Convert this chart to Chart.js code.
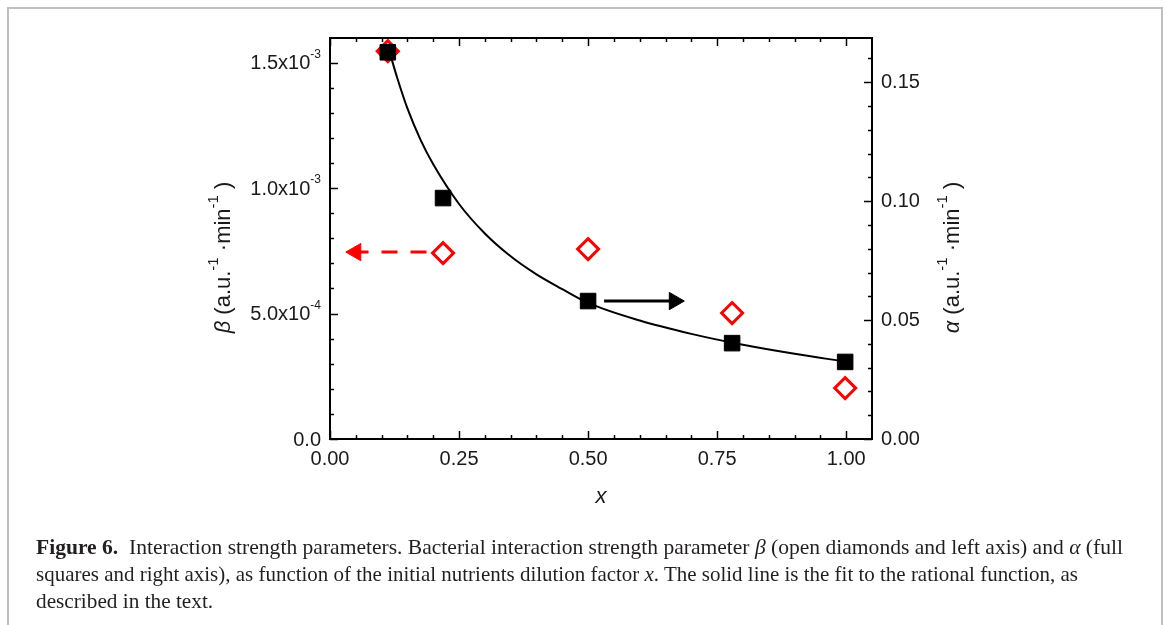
<!DOCTYPE html>
<html>
<head>
<meta charset="utf-8">
<script src="https://cdn.jsdelivr.net/npm/chart.js@4.4.1/dist/chart.umd.min.js"></script>
<style>
    html, body { margin: 0; padding: 0; background: #fff; }
    #wrap { position: relative; width: 1167px; height: 625px; overflow: hidden; }
    #frame { position: absolute; left: 7px; top: 7px; width: 1156px; height: 700px;
             border: 2px solid #c0c0c0; border-bottom: none; box-sizing: border-box; }
    #fig6 { position: absolute; left: 0; top: 0; }
    #caption { position: absolute; left: 36px; top: 534px; color: #231f20;
               font-family: 'Liberation Serif', 'Times New Roman', serif; font-size: 21px; line-height: 27px; }
    #caption .ln { height: 27px; white-space: nowrap; }
    #caption .ln span { display: inline-block; transform-origin: 0 50%; }
</style>
</head>
<body>
<div id="wrap">
    <div id="frame"></div>
    <canvas id="fig6" width="1167" height="625"></canvas>
    <div id="caption">
        <div class="ln"><span data-w="1087"><b>Figure 6.</b>&nbsp; Interaction strength parameters. Bacterial interaction strength parameter <i>β</i> (open diamonds and left axis) and <i>α</i> (full</span></div>
        <div class="ln"><span data-w="1042">squares and right axis), as function of the initial nutrients dilution factor <i>x</i>. The solid line is the fit to the rational function, as</span></div>
        <div class="ln"><span>described in the text.</span></div>
    </div>
</div>
<script>
// ─── Data ───────────────────────────────────────────────────
const dilution  = [0.112, 0.219, 0.500, 0.779, 0.998];          // x
const betaVals  = [1.546e-3, 7.41e-4, 7.57e-4, 5.02e-4, 2.03e-4]; // open diamonds, left axis
const alphaVals = [0.1626, 0.1013, 0.0580, 0.0403, 0.0324];      // full squares, right axis

// fitted rational function (solid line), alpha scale
const fitX     = [0.115, 0.13, 0.15, 0.175, 0.2, 0.25, 0.3, 0.35, 0.4, 0.45, 0.5, 0.6, 0.7, 0.8, 0.9, 1.0];
const fitAlpha = [0.163, 0.152, 0.139, 0.126, 0.1155, 0.0988, 0.0864, 0.0768, 0.0692, 0.0630, 0.0572, 0.0498, 0.0442, 0.0396, 0.0358, 0.0325];

// arrows pointing at the axis each series belongs to
const betaArrowX  = [0.187, 0.05];
const betaArrowY  = [7.45e-4, 7.45e-4];
const alphaArrowX = [0.531, 0.667];
const alphaArrowY = [0.058, 0.058];

// ticks
const xTicks      = [0, 0.25, 0.5, 0.75, 1.0];
const betaTicks   = [0, 5e-4, 1e-3, 1.5e-3];
const betaLabels  = ['0.0', '5.0x10', '1.0x10', '1.5x10'];
const betaExps    = ['', '-4', '-3', '-3'];
const alphaTicks  = [0, 0.05, 0.10, 0.15];

const FONT = "'Liberation Sans', Arial, Helvetica, sans-serif";
const pts = (xs, ys) => xs.map((x, i) => ({ x: x, y: ys[i] }));

// ─── Helpers ────────────────────────────────────────────────
function drawRich(ctx, parts, cx, cy, rot) {
    ctx.save();
    ctx.translate(cx, cy);
    ctx.rotate(rot);
    ctx.textBaseline = 'middle';
    ctx.textAlign = 'left';
    const fontOf = p => (p.it ? 'italic ' : '') + (p.sup ? 15 : 22) + 'px ' + FONT;
    let w = 0;
    parts.forEach(p => { ctx.font = fontOf(p); w += ctx.measureText(p.t).width; });
    let x = -w / 2;
    parts.forEach(p => {
        ctx.font = fontOf(p);
        ctx.fillText(p.t, x, p.sup ? -10 : 0);
        x += ctx.measureText(p.t).width;
    });
    ctx.restore();
}

// frame, inward ticks, left labels with exponents, axis titles
const axisDecor = {
    id: 'axisDecor',
    afterDatasetsDraw(chart) {
        const { ctx, chartArea: a, scales } = chart;
        const sx = scales.x, sb = scales.y, sa = scales.y1;
        ctx.save();
        ctx.strokeStyle = '#000';
        ctx.fillStyle = '#1a1a1a';

        const seg = (x1, y1, x2, y2) => { ctx.beginPath(); ctx.moveTo(x1, y1); ctx.lineTo(x2, y2); ctx.stroke(); };

        ctx.lineWidth = 1.5;
        // x: minor every 0.05, major every 0.25 (bottom + top)
        for (let i = 0; i <= 21; i++) {
            const px = Math.round(sx.getPixelForValue(i * 0.05)) + 0.5;
            if (px > a.right - 1) continue;
            const len = i % 5 === 0 ? 8 : 4;
            seg(px, a.bottom, px, a.bottom - len);
            seg(px, a.top, px, a.top + len);
        }
        // left (beta): minor 1e-4, major 5e-4
        for (let i = 0; i <= 16; i++) {
            const py = Math.round(sb.getPixelForValue(i * 1e-4)) + 0.5;
            if (py < a.top + 1) continue;
            const len = i % 5 === 0 ? 8 : 4;
            seg(a.left, py, a.left + len, py);
        }
        // right (alpha): minor 0.01, major 0.05
        for (let i = 0; i <= 16; i++) {
            const py = Math.round(sa.getPixelForValue(i * 0.01)) + 0.5;
            if (py < a.top + 1) continue;
            const len = i % 5 === 0 ? 8 : 4;
            seg(a.right, py, a.right - len, py);
        }

        ctx.lineWidth = 2;
        ctx.strokeRect(a.left, a.top, a.right - a.left, a.bottom - a.top);

        // left tick labels with superscript exponent
        ctx.textBaseline = 'middle';
        ctx.textAlign = 'right';
        const rx = a.left - 9;
        betaTicks.forEach((v, i) => {
            const py = sb.getPixelForValue(v);
            let r = rx;
            if (betaExps[i]) {
                ctx.font = '12px ' + FONT;
                ctx.fillText(betaExps[i], r, py - 8);
                r -= ctx.measureText(betaExps[i]).width;
            }
            ctx.font = '20px ' + FONT;
            ctx.fillText(betaLabels[i], r, py + 1);
        });

        // axis titles
        const midY = (a.top + a.bottom) / 2 + 19;
        drawRich(ctx, [{ t: 'β', it: true }, { t: ' (a.u.' }, { t: '-1', sup: true }, { t: ' ·min' }, { t: '-1', sup: true }, { t: ' )' }],
                 224, midY, -Math.PI / 2);
        drawRich(ctx, [{ t: 'α', it: true }, { t: ' (a.u.' }, { t: '-1', sup: true }, { t: ' ·min' }, { t: '-1', sup: true }, { t: ' )' }],
                 953, midY, -Math.PI / 2);
        drawRich(ctx, [{ t: 'x', it: true }], (a.left + a.right) / 2, 497, 0);
        ctx.restore();
    }
};

// ─── Chart ──────────────────────────────────────────────────
const ctx = document.getElementById('fig6').getContext('2d');

new Chart(ctx, {
    type: 'scatter',
    data: {
        datasets: [
            {
                label: 'α',
                data: pts(dilution, alphaVals),
                yAxisID: 'y1',
                order: 0,
                pointStyle: 'rect',
                pointRadius: 11,
                pointBackgroundColor: '#000',
                pointBorderColor: '#000',
                pointBorderWidth: 1,
            },
            {
                label: 'β',
                data: pts(dilution, betaVals),
                yAxisID: 'y',
                order: 1,
                pointStyle: 'rectRot',
                pointRadius: 10.5,
                pointBackgroundColor: 'rgba(0,0,0,0)',
                pointBorderColor: '#ff0000',
                pointBorderWidth: 3,
            },
            {
                label: 'fit',
                data: pts(fitX, fitAlpha),
                yAxisID: 'y1',
                order: 2,
                showLine: true,
                borderColor: '#000',
                borderWidth: 2,
                cubicInterpolationMode: 'monotone',
                pointRadius: 0,
            },
            {
                label: 'beta arrow',
                data: pts(betaArrowX, betaArrowY),
                yAxisID: 'y',
                order: 3,
                showLine: true,
                borderColor: '#ff0000',
                borderWidth: 3,
                borderDash: [16, 13],
                pointStyle: 'triangle',
                pointRadius: [0, 10],
                pointRotation: [0, -90],
                pointBackgroundColor: '#ff0000',
                pointBorderColor: '#ff0000',
                pointBorderWidth: 1,
            },
            {
                label: 'alpha arrow',
                data: pts(alphaArrowX, alphaArrowY),
                yAxisID: 'y1',
                order: 3,
                showLine: true,
                borderColor: '#000',
                borderWidth: 3,
                pointStyle: 'triangle',
                pointRadius: [0, 10],
                pointRotation: [0, 90],
                pointBackgroundColor: '#000',
                pointBorderColor: '#000',
                pointBorderWidth: 1,
            }
        ]
    },
    options: {
        responsive: false,
        animation: false,
        events: [],
        layout: { padding: { top: 38, left: 0, right: 0, bottom: 0 } },
        plugins: {
            legend: { display: false },
            tooltip: { enabled: false }
        },
        scales: {
            x: {
                type: 'linear',
                min: 0, max: 1.05,
                grid: { display: false, drawTicks: false },
                border: { display: false },
                afterFit: s => { s.height = 186; },
                afterBuildTicks: s => { s.ticks = xTicks.map(v => ({ value: v })); },
                ticks: {
                    padding: 8,
                    color: '#1a1a1a',
                    font: { family: FONT, size: 20 },
                    maxRotation: 0,
                    callback: v => Number(v).toFixed(2)
                }
            },
            y: {
                type: 'linear',
                position: 'left',
                min: 0, max: 1.5984e-3,
                grid: { display: false, drawTicks: false },
                border: { display: false },
                afterFit: s => { s.width = 330; },
                afterBuildTicks: s => { s.ticks = betaTicks.map(v => ({ value: v })); },
                ticks: { display: false }
            },
            y1: {
                type: 'linear',
                position: 'right',
                min: 0, max: 0.1686,
                grid: { display: false, drawTicks: false },
                border: { display: false },
                afterFit: s => { s.width = 295; },
                afterBuildTicks: s => { s.ticks = alphaTicks.map(v => ({ value: v })); },
                ticks: {
                    padding: 9,
                    color: '#1a1a1a',
                    font: { family: FONT, size: 20 },
                    callback: v => Number(v).toFixed(2)
                }
            }
        }
    },
    plugins: [axisDecor]
});

// ─── Caption: fit lines to their width in the figure; last line uses the mean squeeze ──
let scales = [];
const spans = document.querySelectorAll('#caption .ln span');
spans.forEach(el => {
    if (!el.dataset.w) return;
    const w = el.getBoundingClientRect().width;
    if (w > 0) scales.push(parseFloat(el.dataset.w) / w);
});
const meanScale = scales.length ? scales.reduce((s, v) => s + v, 0) / scales.length : 1;
spans.forEach(el => {
    const w = el.getBoundingClientRect().width;
    const k = el.dataset.w && w > 0 ? parseFloat(el.dataset.w) / w : meanScale;
    el.style.transform = 'scaleX(' + k.toFixed(4) + ')';
});
</script>
</body>
</html>
